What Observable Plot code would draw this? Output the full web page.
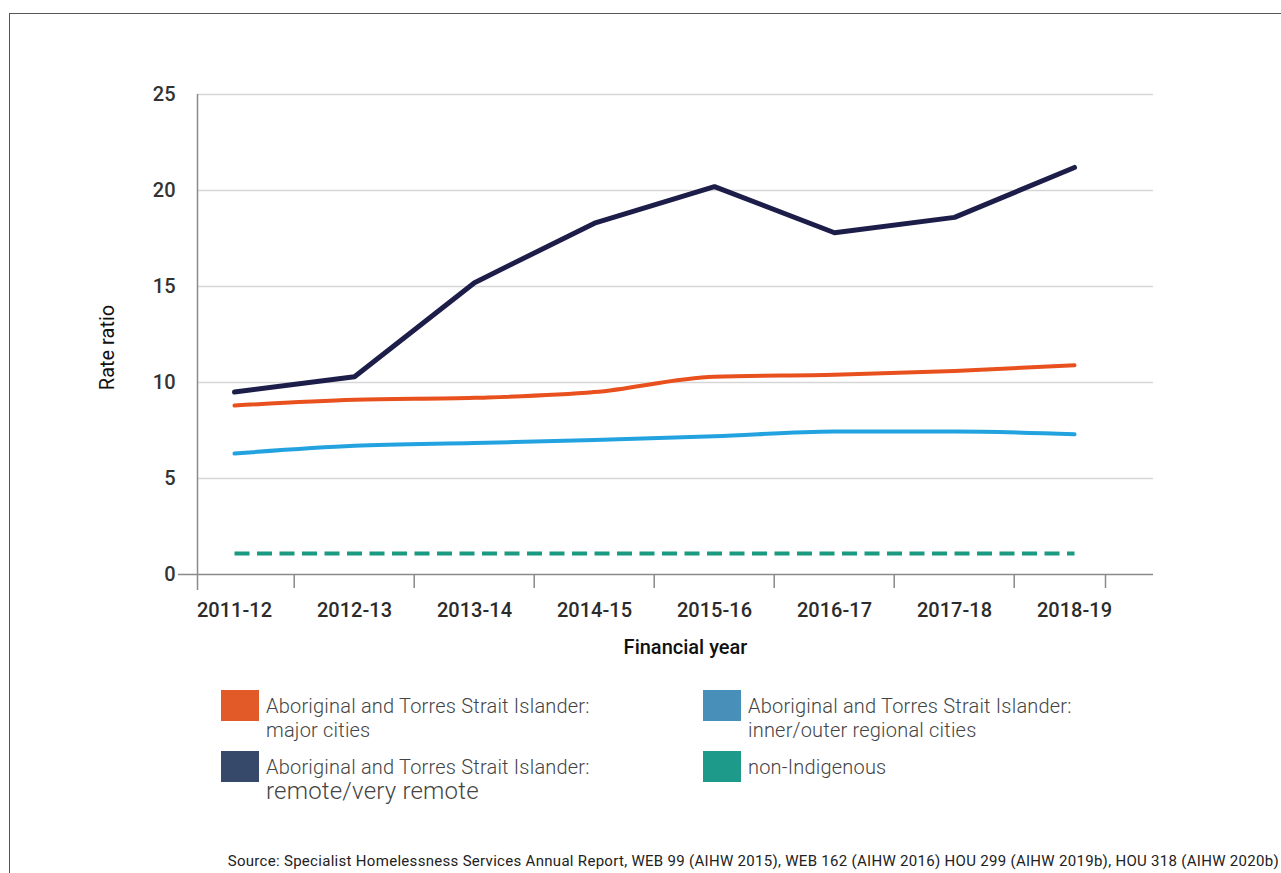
<!DOCTYPE html>
<html><head><meta charset="utf-8">
<script src="https://cdn.jsdelivr.net/npm/d3@7"></script>
<script src="https://cdn.jsdelivr.net/npm/@observablehq/plot@0.6"></script>
<style>
body{margin:0;background:#fff;font-family:Roboto,sans-serif;}
#wrap{position:relative;width:1281px;height:873px;overflow:hidden;background:#fff;}
#border{position:absolute;left:9px;top:13px;width:1300px;height:900px;border-top:1px solid #555;border-left:1px solid #555;}
#chart{position:absolute;left:0;top:0;}
.leg{position:absolute;display:flex;align-items:flex-start;}
.sw{width:38px;height:31px;flex:none;margin-right:7px;}
.lt{font-size:20px;font-weight:300;color:#444;line-height:24px;margin-top:4px;white-space:nowrap;letter-spacing:0.2px;}
.big{font-size:24px;}
#source{position:absolute;right:2px;top:852px;font-size:15px;color:#222;white-space:nowrap;letter-spacing:0.3px;}
</style></head>
<body>
<div id="wrap">
<div id="border"></div>
<div id="chart"></div>
<div id="legend"></div>
<div id="source"></div>
</div>
<script>
const years = ["2011-12","2012-13","2013-14","2014-15","2015-16","2016-17","2017-18","2018-19"];
const majorCities = [8.8, 9.1, 9.2, 9.5, 10.3, 10.4, 10.6, 10.9];
const regionalCities = [6.3, 6.7, 6.85, 7.0, 7.2, 7.45, 7.45, 7.3];
const remote = [9.5, 10.3, 15.2, 18.3, 20.2, 17.8, 18.6, 21.2];
const nonIndigenous = [1.1, 1.1, 1.1, 1.1, 1.1, 1.1, 1.1, 1.1];
const yTicks = [0, 5, 10, 15, 20, 25];
const seriesNames = [
  "Aboriginal and Torres Strait Islander: major cities",
  "Aboriginal and Torres Strait Islander: inner/outer regional cities",
  "Aboriginal and Torres Strait Islander: remote/very remote",
  "non-Indigenous"
];
const lineColors = ["#e8501e", "#22a3e0", "#1d1d4a", "#1a9a80"];
const swatchColors = ["#e35a29", "#488fba", "#37496a", "#1e9a8a"];
const sourceText = "Source: Specialist Homelessness Services Annual Report, WEB 99 (AIHW 2015), WEB 162 (AIHW 2016) HOU 299 (AIHW 2019b), HOU 318 (AIHW 2020b)";

const toRows = (vals) => years.map((y, i) => ({year: y, value: vals[i]}));

const xRange = [232, 1076];
const step = (xRange[1] - xRange[0]) / (years.length - 1);
const axisGray = "#8a8a8a";

const plot = Plot.plot({
  width: 1281, height: 670,
  marginLeft: 195, marginRight: 128, marginTop: 94, marginBottom: 96,
  style: {fontFamily: "Roboto", fontSize: "20px", background: "transparent", overflow: "visible"},
  x: {type: "point", domain: years, range: xRange, padding: 0},
  y: {domain: [0, 25]},
  marks: [
    Plot.ruleY(yTicks.slice(1), {stroke: "#d6d6d6", strokeWidth: 1.5, insetLeft: 2}),
    Plot.ruleY([0], {stroke: axisGray, strokeWidth: 1.5, insetLeft: -17}),
    Plot.ruleX([years[0]], {dx: 195 - xRange[0], stroke: axisGray, strokeWidth: 1.5, insetBottom: -16}),
    Plot.axisY({ticks: yTicks, tickSize: 0, tickPadding: 20, fontWeight: 500, fill: "#333", label: null}),
    Plot.axisX({ticks: years.slice(1), tickSize: 14, tickFormat: () => "", dx: -step / 2, stroke: axisGray, strokeWidth: 1.5, label: null}),
    Plot.axisX({ticks: [years[years.length - 1]], tickSize: 14, tickFormat: () => "", dx: 31, stroke: axisGray, strokeWidth: 1.5, label: null}),
    Plot.axisX({tickSize: 0, tickPadding: 28, fontWeight: 500, fill: "#2b2b2b", label: null}),
    Plot.lineY(toRows(nonIndigenous), {x: "year", y: "value", stroke: lineColors[3], strokeWidth: 4, strokeDasharray: "15,7.5", strokeLinecap: "butt"}),
    Plot.lineY(toRows(regionalCities), {x: "year", y: "value", stroke: lineColors[1], strokeWidth: 4, curve: "monotone-x"}),
    Plot.lineY(toRows(majorCities), {x: "year", y: "value", stroke: lineColors[0], strokeWidth: 4, curve: "monotone-x"}),
    Plot.lineY(toRows(remote), {x: "year", y: "value", stroke: lineColors[2], strokeWidth: 5}),
    Plot.text(["Financial year"], {frameAnchor: "bottom", textAnchor: "middle", lineAnchor: "middle", dx: 11, dy: 73, fontSize: 20, fontWeight: 500, fill: "#111"}),
    Plot.text(["Rate ratio"], {frameAnchor: "left", textAnchor: "middle", lineAnchor: "middle", rotate: -90, dx: -88, dy: 13, fontSize: 20, fill: "#111"})
  ]
});
document.getElementById("chart").appendChild(plot);

// legend
const legendPos = [[221, 690], [703, 690], [221, 751], [703, 751]];
const legend = document.getElementById("legend");
seriesNames.forEach((name, i) => {
  const item = document.createElement("div");
  item.className = "leg";
  item.style.left = legendPos[i][0] + "px";
  item.style.top = legendPos[i][1] + "px";
  const sw = document.createElement("div");
  sw.className = "sw";
  sw.style.background = swatchColors[i];
  const t = document.createElement("div");
  t.className = "lt";
  const parts = name.split(": ");
  if (parts.length > 1) {
    t.appendChild(document.createTextNode(parts[0] + ":"));
    t.appendChild(document.createElement("br"));
    const s = document.createElement("span");
    s.textContent = parts[1];
    if (i === 2) s.className = "big";
    t.appendChild(s);
  } else {
    t.textContent = name;
  }
  item.appendChild(sw);
  item.appendChild(t);
  legend.appendChild(item);
});
document.getElementById("source").textContent = sourceText;
</script>
</body></html>
